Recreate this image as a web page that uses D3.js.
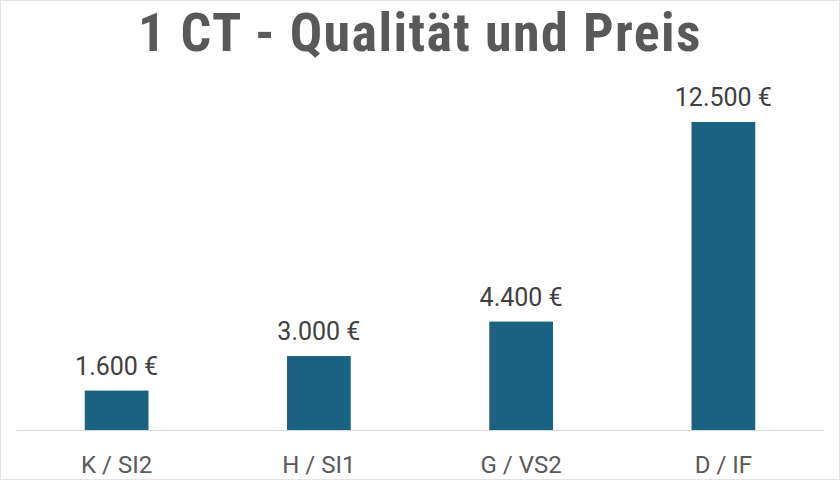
<!DOCTYPE html>
<html>
<head>
  <meta charset="utf-8">
  <script src="https://cdn.jsdelivr.net/npm/d3@7"></script>
  <style>
    body { margin: 0; background: #fff; }
    .title { font-family: "Liberation Sans Narrow", "Roboto Condensed", "Liberation Sans", sans-serif; }
    .lbl { font-family: Roboto, "Liberation Sans", sans-serif; }
  </style>
</head>
<body>
  <div id="chart"></div>
  <script>
    const categories = ["K / SI2", "H / SI1", "G / VS2", "D / IF"]
    const prices = [1600, 3000, 4400, 12500]
    const title = "1 CT - Qualität und Preis"

    const width = 840
    const height = 480
    const margin = { top: 80, right: 16, bottom: 50, left: 16 }

    const svg = d3.select("#chart")
      .append("svg")
      .attr("width", width)
      .attr("height", height)

    svg.append("rect")
      .attr("x", 0.5).attr("y", 0.5)
      .attr("width", width - 1).attr("height", height - 1)
      .attr("fill", "#fff")
      .attr("stroke", "#e3e3e3")

    const x = d3.scaleBand()
      .domain(categories)
      .range([margin.left, width - margin.right])
      .paddingInner(0.685)
      .paddingOuter(0.34)

    const y = d3.scaleLinear()
      .domain([0, 14000])
      .range([430, 430 - 345])

    svg.append("text")
      .attr("class", "title")
      .attr("x", width / 2)
      .attr("y", 51)
      .attr("text-anchor", "middle")
      .attr("font-size", 54)
      .attr("font-weight", "bold")
      .attr("letter-spacing", 1.4)
      .attr("fill", "#595959")
      .text(title)

    svg.append("g")
      .selectAll("rect")
      .data(prices)
      .enter()
      .append("rect")
      .attr("x", (d, i) => x(categories[i]))
      .attr("y", d => y(d))
      .attr("width", x.bandwidth())
      .attr("height", d => y(0) - y(d))
      .attr("fill", "#1a6282")

    svg.append("g")
      .selectAll("text")
      .data(prices)
      .enter()
      .append("text")
      .attr("class", "lbl")
      .attr("x", (d, i) => x(categories[i]) + x.bandwidth() / 2)
      .attr("y", d => y(d) - 16)
      .attr("text-anchor", "middle")
      .attr("font-size", 25)
      .attr("fill", "#404040")
      .text(d => d3.format(",")(d).replace(/,/g, ".") + " €")

    const xAxis = svg.append("g")
      .attr("transform", `translate(0,${y(0)})`)
      .call(d3.axisBottom(x).tickSize(0).tickPadding(26))

    xAxis.select(".domain").attr("stroke", "#d9d9d9")
    xAxis.selectAll("text")
      .attr("class", "lbl")
      .attr("font-size", 24)
      .attr("fill", "#595959")
  </script>
</body>
</html>
